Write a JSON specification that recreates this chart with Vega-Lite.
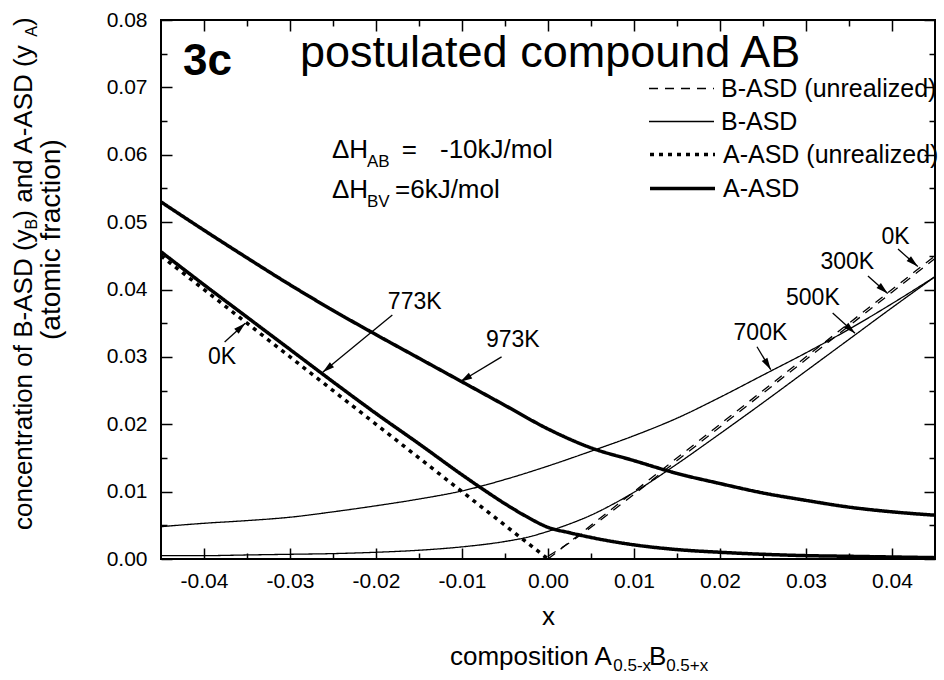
{
  "$schema": "https://vega.github.io/schema/vega-lite/v6.json",
  "width": 774,
  "height": 539,
  "autosize": "none",
  "padding": {"left": 161, "top": 20, "right": 9, "bottom": 121},
  "background": "white",
  "config": {
    "view": {"stroke": "black", "strokeWidth": 2},
    "font": "Liberation Sans",
    "axis": {"domain": false, "grid": false, "tickColor": "black", "tickWidth": 1.5, "labelColor": "black", "titleColor": "black", "labelFont": "Liberation Sans", "titleFont": "Liberation Sans", "titleFontWeight": "normal"},
    "legend": {"title": null, "orient": "none", "symbolType": "stroke", "symbolSize": 4225, "symbolStrokeColor": "black", "labelFont": "Liberation Sans", "labelFontSize": 25, "labelColor": "black", "labelOffset": 6, "labelLimit": 400, "padding": 0},
    "text": {"font": "Liberation Sans", "color": "black"}
  },
  "resolve": {"axis": {"x": "independent", "y": "independent"}, "scale": {"strokeDash": "independent"}, "legend": {"strokeDash": "independent"}},
  "datasets": {
    "curves": [
      {"curve": "A973", "type": "A-ASD", "x": -0.045, "y": 0.0530},
      {"curve": "A973", "type": "A-ASD", "x": -0.04, "y": 0.0488},
      {"curve": "A973", "type": "A-ASD", "x": -0.035, "y": 0.0447},
      {"curve": "A973", "type": "A-ASD", "x": -0.03, "y": 0.0407},
      {"curve": "A973", "type": "A-ASD", "x": -0.025, "y": 0.0369},
      {"curve": "A973", "type": "A-ASD", "x": -0.02, "y": 0.0333},
      {"curve": "A973", "type": "A-ASD", "x": -0.015, "y": 0.0298},
      {"curve": "A973", "type": "A-ASD", "x": -0.01, "y": 0.0263},
      {"curve": "A973", "type": "A-ASD", "x": -0.005, "y": 0.0228},
      {"curve": "A973", "type": "A-ASD", "x": 0, "y": 0.0193},
      {"curve": "A973", "type": "A-ASD", "x": 0.005, "y": 0.0165},
      {"curve": "A973", "type": "A-ASD", "x": 0.01, "y": 0.0146},
      {"curve": "A973", "type": "A-ASD", "x": 0.015, "y": 0.0127},
      {"curve": "A973", "type": "A-ASD", "x": 0.02, "y": 0.0112},
      {"curve": "A973", "type": "A-ASD", "x": 0.025, "y": 0.0098},
      {"curve": "A973", "type": "A-ASD", "x": 0.03, "y": 0.0087},
      {"curve": "A973", "type": "A-ASD", "x": 0.035, "y": 0.0077},
      {"curve": "A973", "type": "A-ASD", "x": 0.04, "y": 0.0070},
      {"curve": "A973", "type": "A-ASD", "x": 0.045, "y": 0.0065},
      {"curve": "A773", "type": "A-ASD", "x": -0.045, "y": 0.0456},
      {"curve": "A773", "type": "A-ASD", "x": -0.04, "y": 0.0407},
      {"curve": "A773", "type": "A-ASD", "x": -0.035, "y": 0.0359},
      {"curve": "A773", "type": "A-ASD", "x": -0.03, "y": 0.0311},
      {"curve": "A773", "type": "A-ASD", "x": -0.025, "y": 0.0263},
      {"curve": "A773", "type": "A-ASD", "x": -0.02, "y": 0.0216},
      {"curve": "A773", "type": "A-ASD", "x": -0.015, "y": 0.0171},
      {"curve": "A773", "type": "A-ASD", "x": -0.01, "y": 0.0125},
      {"curve": "A773", "type": "A-ASD", "x": -0.0075, "y": 0.0103},
      {"curve": "A773", "type": "A-ASD", "x": -0.005, "y": 0.0082},
      {"curve": "A773", "type": "A-ASD", "x": -0.0025, "y": 0.0063},
      {"curve": "A773", "type": "A-ASD", "x": 0, "y": 0.0047},
      {"curve": "A773", "type": "A-ASD", "x": 0.0025, "y": 0.0039},
      {"curve": "A773", "type": "A-ASD", "x": 0.005, "y": 0.0032},
      {"curve": "A773", "type": "A-ASD", "x": 0.0075, "y": 0.0026},
      {"curve": "A773", "type": "A-ASD", "x": 0.01, "y": 0.0021},
      {"curve": "A773", "type": "A-ASD", "x": 0.015, "y": 0.0014},
      {"curve": "A773", "type": "A-ASD", "x": 0.02, "y": 0.0010},
      {"curve": "A773", "type": "A-ASD", "x": 0.025, "y": 0.0007},
      {"curve": "A773", "type": "A-ASD", "x": 0.03, "y": 0.0005},
      {"curve": "A773", "type": "A-ASD", "x": 0.035, "y": 0.0004},
      {"curve": "A773", "type": "A-ASD", "x": 0.04, "y": 0.0003},
      {"curve": "A773", "type": "A-ASD", "x": 0.045, "y": 0.0002},
      {"curve": "A0", "type": "A-ASD (unrealized)", "x": -0.045, "y": 0.045},
      {"curve": "A0", "type": "A-ASD (unrealized)", "x": 0, "y": 0},
      {"curve": "B0", "type": "B-ASD (unrealized)", "x": 0, "y": 0},
      {"curve": "B0", "type": "B-ASD (unrealized)", "x": 0.045, "y": 0.045},
      {"curve": "B300", "type": "B-ASD (unrealized)", "x": 0, "y": 0.0004},
      {"curve": "B300", "type": "B-ASD (unrealized)", "x": 0.0025, "y": 0.0024},
      {"curve": "B300", "type": "B-ASD (unrealized)", "x": 0.005, "y": 0.0047},
      {"curve": "B300", "type": "B-ASD (unrealized)", "x": 0.01, "y": 0.0096},
      {"curve": "B300", "type": "B-ASD (unrealized)", "x": 0.02, "y": 0.0196},
      {"curve": "B300", "type": "B-ASD (unrealized)", "x": 0.03, "y": 0.0296},
      {"curve": "B300", "type": "B-ASD (unrealized)", "x": 0.04, "y": 0.0396},
      {"curve": "B300", "type": "B-ASD (unrealized)", "x": 0.045, "y": 0.0446},
      {"curve": "B500", "type": "B-ASD", "x": -0.045, "y": 0.0005},
      {"curve": "B500", "type": "B-ASD", "x": -0.04, "y": 0.0005},
      {"curve": "B500", "type": "B-ASD", "x": -0.035, "y": 0.0006},
      {"curve": "B500", "type": "B-ASD", "x": -0.03, "y": 0.0007},
      {"curve": "B500", "type": "B-ASD", "x": -0.025, "y": 0.0008},
      {"curve": "B500", "type": "B-ASD", "x": -0.02, "y": 0.0010},
      {"curve": "B500", "type": "B-ASD", "x": -0.015, "y": 0.0013},
      {"curve": "B500", "type": "B-ASD", "x": -0.01, "y": 0.0018},
      {"curve": "B500", "type": "B-ASD", "x": -0.005, "y": 0.0026},
      {"curve": "B500", "type": "B-ASD", "x": -0.0025, "y": 0.0032},
      {"curve": "B500", "type": "B-ASD", "x": 0, "y": 0.0041},
      {"curve": "B500", "type": "B-ASD", "x": 0.0025, "y": 0.0052},
      {"curve": "B500", "type": "B-ASD", "x": 0.005, "y": 0.0065},
      {"curve": "B500", "type": "B-ASD", "x": 0.0075, "y": 0.0081},
      {"curve": "B500", "type": "B-ASD", "x": 0.01, "y": 0.0099},
      {"curve": "B500", "type": "B-ASD", "x": 0.015, "y": 0.0141},
      {"curve": "B500", "type": "B-ASD", "x": 0.02, "y": 0.0186},
      {"curve": "B500", "type": "B-ASD", "x": 0.025, "y": 0.0232},
      {"curve": "B500", "type": "B-ASD", "x": 0.03, "y": 0.0279},
      {"curve": "B500", "type": "B-ASD", "x": 0.035, "y": 0.0326},
      {"curve": "B500", "type": "B-ASD", "x": 0.04, "y": 0.0373},
      {"curve": "B500", "type": "B-ASD", "x": 0.045, "y": 0.0419},
      {"curve": "B700", "type": "B-ASD", "x": -0.045, "y": 0.0048},
      {"curve": "B700", "type": "B-ASD", "x": -0.04, "y": 0.0053},
      {"curve": "B700", "type": "B-ASD", "x": -0.035, "y": 0.0057},
      {"curve": "B700", "type": "B-ASD", "x": -0.03, "y": 0.0062},
      {"curve": "B700", "type": "B-ASD", "x": -0.025, "y": 0.0070},
      {"curve": "B700", "type": "B-ASD", "x": -0.02, "y": 0.0079},
      {"curve": "B700", "type": "B-ASD", "x": -0.015, "y": 0.0089},
      {"curve": "B700", "type": "B-ASD", "x": -0.01, "y": 0.0101},
      {"curve": "B700", "type": "B-ASD", "x": -0.005, "y": 0.0118},
      {"curve": "B700", "type": "B-ASD", "x": 0, "y": 0.0138},
      {"curve": "B700", "type": "B-ASD", "x": 0.005, "y": 0.0160},
      {"curve": "B700", "type": "B-ASD", "x": 0.01, "y": 0.0183},
      {"curve": "B700", "type": "B-ASD", "x": 0.015, "y": 0.0209},
      {"curve": "B700", "type": "B-ASD", "x": 0.02, "y": 0.0240},
      {"curve": "B700", "type": "B-ASD", "x": 0.025, "y": 0.0273},
      {"curve": "B700", "type": "B-ASD", "x": 0.03, "y": 0.0306},
      {"curve": "B700", "type": "B-ASD", "x": 0.035, "y": 0.0341},
      {"curve": "B700", "type": "B-ASD", "x": 0.04, "y": 0.0379},
      {"curve": "B700", "type": "B-ASD", "x": 0.045, "y": 0.0419}
    ],
    "arrows": [
      {"x": -0.0376, "y": 0.0322, "x2": -0.0352, "y2": 0.0350},
      {"x": -0.0181, "y": 0.0362, "x2": -0.0262, "y2": 0.0277},
      {"x": -0.0054, "y": 0.0300, "x2": -0.0102, "y2": 0.0263},
      {"x": 0.0243, "y": 0.0315, "x2": 0.0259, "y2": 0.0281},
      {"x": 0.0331, "y": 0.0365, "x2": 0.0357, "y2": 0.0335},
      {"x": 0.0372, "y": 0.0420, "x2": 0.0395, "y2": 0.0394},
      {"x": 0.0407, "y": 0.0460, "x2": 0.0430, "y2": 0.0434}
    ],
    "tlabels": [
      {"text": "0K", "x": -0.0379, "y": 0.0300},
      {"text": "773K", "x": -0.0155, "y": 0.0381},
      {"text": "973K", "x": -0.0041, "y": 0.0325},
      {"text": "700K", "x": 0.0247, "y": 0.0335},
      {"text": "500K", "x": 0.0308, "y": 0.0387},
      {"text": "300K", "x": 0.0348, "y": 0.0441},
      {"text": "0K", "x": 0.0404, "y": 0.0478}
    ],
    "title": [{"text": "postulated compound AB", "x": -0.02884, "y": 0.07302}],
    "panel": [{"text": "3c", "x": -0.04244, "y": 0.07184}],
    "maintext": [
      {"text": "ΔH", "x": -0.02512, "y": 0.05952},
      {"text": "=", "x": -0.01701, "y": 0.05952},
      {"text": "-10kJ/mol", "x": -0.01256, "y": 0.05952},
      {"text": "ΔH", "x": -0.02512, "y": 0.05353},
      {"text": "=6kJ/mol", "x": -0.01779, "y": 0.05353},
      {"text": "composition A", "x": -0.0114, "y": -0.01573},
      {"text": "B", "x": 0.01173, "y": -0.01573}
    ],
    "subtext": [
      {"text": "AB", "x": -0.02105, "y": 0.05823},
      {"text": "BV", "x": -0.02105, "y": 0.05229},
      {"text": "0.5-x", "x": 0.00759, "y": -0.01662},
      {"text": "0.5+x", "x": 0.01374, "y": -0.01662}
    ],
    "ytitle": [
      {"text": "concentration of B-ASD (y", "x": -0.0600, "y": 0.0043},
      {"text": ") and A-ASD  (y", "x": -0.0600, "y": 0.05051},
      {"text": ")", "x": -0.0600, "y": 0.07911}
    ],
    "ytitlesub": [
      {"text": "B", "x": -0.05942, "y": 0.04892},
      {"text": "A", "x": -0.05942, "y": 0.07752}
    ],
    "ytitle2": [{"text": "(atomic fraction)", "x": -0.05674, "y": 0.0474}]
  },
  "layer": [
    {
      "data": {"name": "curves"},
      "transform": [{"filter": "datum.type == 'B-ASD (unrealized)'"}],
      "mark": {"type": "line", "color": "black", "strokeCap": "butt", "strokeWidth": 1.3},
      "encoding": {
        "x": {"field": "x", "type": "quantitative", "scale": {"domain": [-0.045, 0.045], "nice": false, "zero": false},
          "axis": {"orient": "bottom", "values": [-0.04, -0.03, -0.02, -0.01, 0, 0.01, 0.02, 0.03, 0.04], "labelExpr": "replace(format(datum.value, '.2f'), '−', '-')", "tickSize": -11, "labelPadding": 22, "labelFontSize": 21, "labelFlush": false, "labelOverlap": false, "title": "x", "titleFontSize": 26, "titlePadding": 12}},
        "y": {"field": "y", "type": "quantitative", "scale": {"domain": [0, 0.08], "nice": false, "zero": false},
          "axis": {"orient": "left", "values": [0, 0.01, 0.02, 0.03, 0.04, 0.05, 0.06, 0.07, 0.08], "format": ".2f", "tickSize": -11, "labelPadding": 25, "labelFontSize": 21, "labelFlush": false, "labelOverlap": false, "title": null}},
        "detail": {"field": "curve", "type": "nominal"},
        "strokeDash": {"field": "type", "type": "nominal", "scale": {"domain": ["B-ASD (unrealized)"], "range": [[9, 7]]},
          "legend": {"legendX": 487, "legendY": 35, "symbolStrokeWidth": 1.3}}
      }
    },
    {
      "data": {"name": "curves"},
      "transform": [{"filter": "datum.type == 'B-ASD'"}],
      "mark": {"type": "line", "color": "black", "strokeCap": "butt", "strokeWidth": 1.3, "interpolate": "monotone"},
      "encoding": {
        "x": {"field": "x", "type": "quantitative", "scale": {"domain": [-0.045, 0.045], "nice": false, "zero": false},
          "axis": {"orient": "bottom", "values": [-0.035, -0.025, -0.015, -0.005, 0.005, 0.015, 0.025, 0.035], "tickSize": -6, "labels": false, "title": null}},
        "y": {"field": "y", "type": "quantitative", "scale": {"domain": [0, 0.08], "nice": false, "zero": false},
          "axis": {"orient": "left", "values": [0.005, 0.015, 0.025, 0.035, 0.045, 0.055, 0.065, 0.075], "tickSize": -6, "labels": false, "title": null}},
        "detail": {"field": "curve", "type": "nominal"},
        "strokeDash": {"field": "type", "type": "nominal", "scale": {"domain": ["B-ASD"], "range": [[1, 0]]},
          "legend": {"legendX": 487, "legendY": 68, "symbolStrokeWidth": 1.3}}
      }
    },
    {
      "data": {"name": "curves"},
      "transform": [{"filter": "datum.type == 'A-ASD (unrealized)'"}],
      "mark": {"type": "line", "color": "black", "strokeCap": "butt", "strokeWidth": 3.5},
      "encoding": {
        "x": {"field": "x", "type": "quantitative", "scale": {"domain": [-0.045, 0.045], "nice": false, "zero": false},
          "axis": {"orient": "top", "values": [-0.04, -0.03, -0.02, -0.01, 0, 0.01, 0.02, 0.03, 0.04], "tickSize": -11, "labels": false, "title": null}},
        "y": {"field": "y", "type": "quantitative", "scale": {"domain": [0, 0.08], "nice": false, "zero": false},
          "axis": {"orient": "right", "values": [0, 0.01, 0.02, 0.03, 0.04, 0.05, 0.06, 0.07, 0.08], "tickSize": -11, "labels": false, "title": null}},
        "detail": {"field": "curve", "type": "nominal"},
        "strokeDash": {"field": "type", "type": "nominal", "scale": {"domain": ["A-ASD (unrealized)"], "range": [[4, 5]]},
          "legend": {"legendX": 487, "legendY": 100, "symbolStrokeWidth": 3.5}}
      }
    },
    {
      "data": {"name": "curves"},
      "transform": [{"filter": "datum.type == 'A-ASD'"}],
      "mark": {"type": "line", "color": "black", "strokeCap": "butt", "strokeWidth": 3.5, "interpolate": "monotone"},
      "encoding": {
        "x": {"field": "x", "type": "quantitative", "scale": {"domain": [-0.045, 0.045], "nice": false, "zero": false},
          "axis": {"orient": "top", "values": [-0.035, -0.025, -0.015, -0.005, 0.005, 0.015, 0.025, 0.035], "tickSize": -6, "labels": false, "title": null}},
        "y": {"field": "y", "type": "quantitative", "scale": {"domain": [0, 0.08], "nice": false, "zero": false},
          "axis": {"orient": "right", "values": [0.005, 0.015, 0.025, 0.035, 0.045, 0.055, 0.065, 0.075], "tickSize": -6, "labels": false, "title": null}},
        "detail": {"field": "curve", "type": "nominal"},
        "strokeDash": {"field": "type", "type": "nominal", "scale": {"domain": ["A-ASD"], "range": [[1, 0]]},
          "legend": {"legendX": 487, "legendY": 134, "symbolStrokeWidth": 3.5}}
      }
    },
    {
      "data": {"name": "arrows"},
      "mark": {"type": "rule", "color": "black", "strokeWidth": 1.3},
      "encoding": {
        "x": {"field": "x", "type": "quantitative", "axis": null},
        "y": {"field": "y", "type": "quantitative", "axis": null},
        "x2": {"field": "x2"},
        "y2": {"field": "y2"}
      }
    },
    {
      "data": {"name": "arrows"},
      "transform": [{"calculate": "atan2((datum.x2 - datum.x) * 8600, (datum.y2 - datum.y) * 6737.5) * 180 / PI", "as": "ang"}],
      "mark": {"type": "point", "shape": "M0,0L0.55,2L-0.55,2Z", "filled": true, "color": "black", "opacity": 1, "size": 144, "strokeWidth": 0},
      "encoding": {
        "x": {"field": "x2", "type": "quantitative", "axis": null},
        "y": {"field": "y2", "type": "quantitative", "axis": null},
        "angle": {"field": "ang", "type": "quantitative", "scale": null}
      }
    },
    {
      "data": {"name": "tlabels"},
      "mark": {"type": "text", "fontSize": 23, "align": "center", "baseline": "middle"},
      "encoding": {
        "x": {"field": "x", "type": "quantitative", "axis": null},
        "y": {"field": "y", "type": "quantitative", "axis": null},
        "text": {"field": "text"}
      }
    },
    {
      "data": {"name": "title"},
      "mark": {"type": "text", "fontSize": 45, "align": "left", "baseline": "alphabetic"},
      "encoding": {
        "x": {"field": "x", "type": "quantitative", "axis": null},
        "y": {"field": "y", "type": "quantitative", "axis": null},
        "text": {"field": "text"}
      }
    },
    {
      "data": {"name": "panel"},
      "mark": {"type": "text", "fontSize": 44, "fontWeight": "bold", "align": "left", "baseline": "alphabetic"},
      "encoding": {
        "x": {"field": "x", "type": "quantitative", "axis": null},
        "y": {"field": "y", "type": "quantitative", "axis": null},
        "text": {"field": "text"}
      }
    },
    {
      "data": {"name": "maintext"},
      "mark": {"type": "text", "fontSize": 26, "align": "left", "baseline": "alphabetic"},
      "encoding": {
        "x": {"field": "x", "type": "quantitative", "axis": null},
        "y": {"field": "y", "type": "quantitative", "axis": null},
        "text": {"field": "text"}
      }
    },
    {
      "data": {"name": "subtext"},
      "mark": {"type": "text", "fontSize": 17, "align": "left", "baseline": "alphabetic"},
      "encoding": {
        "x": {"field": "x", "type": "quantitative", "axis": null},
        "y": {"field": "y", "type": "quantitative", "axis": null},
        "text": {"field": "text"}
      }
    },
    {
      "data": {"name": "ytitle"},
      "mark": {"type": "text", "fontSize": 26, "align": "left", "baseline": "alphabetic", "angle": 270},
      "encoding": {
        "x": {"field": "x", "type": "quantitative", "axis": null},
        "y": {"field": "y", "type": "quantitative", "axis": null},
        "text": {"field": "text"}
      }
    },
    {
      "data": {"name": "ytitlesub"},
      "mark": {"type": "text", "fontSize": 16, "align": "left", "baseline": "alphabetic", "angle": 270},
      "encoding": {
        "x": {"field": "x", "type": "quantitative", "axis": null},
        "y": {"field": "y", "type": "quantitative", "axis": null},
        "text": {"field": "text"}
      }
    },
    {
      "data": {"name": "ytitle2"},
      "mark": {"type": "text", "fontSize": 28, "align": "center", "baseline": "alphabetic", "angle": 270},
      "encoding": {
        "x": {"field": "x", "type": "quantitative", "axis": null},
        "y": {"field": "y", "type": "quantitative", "axis": null},
        "text": {"field": "text"}
      }
    }
  ]
}
